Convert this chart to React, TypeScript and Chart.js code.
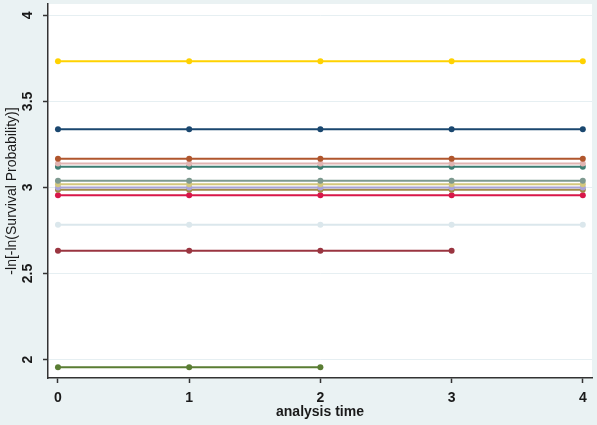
import React, { useEffect, useRef } from "react";
import { Chart, registerables } from "chart.js";

Chart.register(...registerables);

// analysis time points
const timePoints = [0, 1, 2, 3, 4];
const xTickValues = [0, 1, 2, 3, 4];
const yTickValues = [2, 2.5, 3, 3.5, 4];

// -ln[-ln(S)] per group
const goldSeries = [3.734, 3.734, 3.734, 3.734, 3.734];
const navySeries = [3.338, 3.338, 3.338, 3.338, 3.338];
const siennaSeries = [3.167, 3.167, 3.167, 3.167, 3.167];
const eroseSeries = [3.14, 3.14, 3.14, 3.14, 3.14];
const emeraldSeries = [3.121, 3.121, 3.121, 3.121, 3.121];
const tealSeries = [3.039, 3.039, 3.039, 3.039, 3.039];
const khakiSeries = [3.019, 3.019, 3.019, 3.019, 3.019];
const lavenderSeries = [3.0, 3.0, 3.0, 3.0, 3.0];
const brownSeries = [2.987, 2.987, 2.987, 2.987, 2.987];
const cranberrySeries = [2.955, 2.955, 2.955, 2.955, 2.955];
const bluishgraySeries = [2.783, 2.783, 2.783, 2.783, 2.783];
const maroonSeries = [2.633, 2.633, 2.633, 2.633];
const forestSeries = [1.955, 1.955, 1.955];

const seriesList: { values: number[]; color: string }[] = [
  { values: goldSeries, color: "#ffd200" },
  { values: navySeries, color: "#1a476f" },
  { values: siennaSeries, color: "#b0562d" },
  { values: eroseSeries, color: "#e0b4b2" },
  { values: emeraldSeries, color: "#3d7d72" },
  { values: tealSeries, color: "#7e9a90" },
  { values: khakiSeries, color: "#d4c87e" },
  { values: lavenderSeries, color: "#a9a4d8" },
  { values: brownSeries, color: "#a08a48" },
  { values: cranberrySeries, color: "#d8174a" },
  { values: bluishgraySeries, color: "#dbe7ec" },
  { values: maroonSeries, color: "#9a3540" },
  { values: forestSeries, color: "#5a7d33" },
];

const FONT = '"Liberation Sans", Arial, sans-serif';

const bgPlugin = {
  id: "stataBg",
  beforeDraw(chart: any) {
    const { ctx, chartArea } = chart;
    ctx.save();
    ctx.fillStyle = "#eaf2f3";
    ctx.fillRect(0, 0, chart.width, chart.height);
    ctx.fillStyle = "#ffffff";
    ctx.fillRect(chartArea.left, chartArea.top, chartArea.right - chartArea.left, chartArea.bottom - chartArea.top);
    ctx.restore();
  },
};

export default function App() {
  const ref = useRef<HTMLCanvasElement | null>(null);

  useEffect(() => {
    document.body.style.margin = "0";
    const canvas = ref.current;
    if (!canvas) return;
    const chart = new Chart(canvas, {
      type: "line",
      data: {
        datasets: seriesList.map((s) => ({
          data: s.values.map((v, i) => ({ x: timePoints[i], y: v })),
          borderColor: s.color,
          backgroundColor: s.color,
          borderWidth: 2,
          pointRadius: 3,
          pointBorderWidth: 0,
          pointBackgroundColor: s.color,
          fill: false,
          tension: 0,
        })),
      },
      options: {
        responsive: false,
        animation: false,
        layout: { padding: { left: 0, right: 5, top: 2, bottom: 0 } },
        plugins: {
          legend: { display: false },
          tooltip: { enabled: false },
        },
        scales: {
          x: {
            type: "linear",
            min: -0.076,
            max: 4.07,
            afterBuildTicks: (scale: any) => {
              scale.ticks = xTickValues.map((v) => ({ value: v }));
            },
            afterFit: (scale: any) => {
              scale.height = 47;
              scale.paddingLeft = 0;
              scale.paddingRight = 0;
            },
            grid: {
              drawOnChartArea: false,
              drawTicks: true,
              tickLength: 5,
              tickColor: "#333333",
              tickWidth: 1.5,
            },
            border: { display: true, color: "#333333", width: 1.5 },
            ticks: {
              color: "#1a1a1a",
              font: { family: FONT, size: 14, weight: "bold" },
              padding: 7,
              maxRotation: 0,
              autoSkip: false,
              callback: (v: any) => String(v),
            },
            title: {
              display: true,
              text: "analysis time",
              color: "#1a1a1a",
              font: { family: FONT, size: 14, weight: "bold" },
              padding: { top: 0, bottom: 4 },
            },
          },
          y: {
            type: "linear",
            min: 1.893,
            max: 4.066,
            afterBuildTicks: (scale: any) => {
              scale.ticks = yTickValues.map((v) => ({ value: v }));
            },
            afterFit: (scale: any) => {
              scale.width = 48;
              scale.paddingTop = 0;
              scale.paddingBottom = 0;
            },
            grid: {
              color: "#e6eff2",
              lineWidth: 1,
              drawTicks: true,
              tickLength: 5,
              tickColor: "#333333",
              tickWidth: 1.5,
            },
            border: { display: true, color: "#333333", width: 1.5 },
            ticks: {
              color: "#1a1a1a",
              font: { family: FONT, size: 14, weight: "bold" },
              padding: 5,
              minRotation: 90,
              maxRotation: 90,
              crossAlign: "center",
              autoSkip: false,
              callback: (v: any) => String(v),
            },
            title: {
              display: true,
              text: "-ln[-ln(Survival Probability)]",
              color: "#1a1a1a",
              font: { family: FONT, size: 14 },
              padding: { top: 4, bottom: 4 },
            },
          },
        },
      },
      plugins: [bgPlugin],
    } as any);
    return () => chart.destroy();
  }, []);

  return <canvas ref={ref} width={597} height={425} style={{ display: "block" }} />;
}
